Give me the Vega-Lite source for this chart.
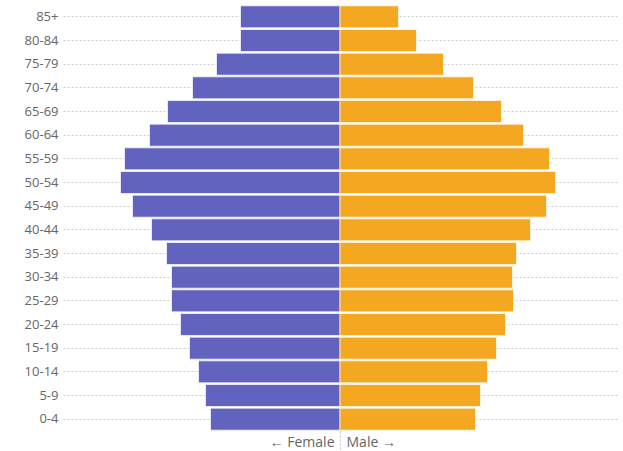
{
  "$schema": "https://vega.github.io/schema/vega-lite/v6.json",
  "width": 554,
  "height": 426,
  "autosize": "none",
  "padding": {"left": 63, "top": 5, "right": 6, "bottom": 20},
  "config": {"view": {"stroke": null}, "font": "Open Sans"},
  "data": {"values": [
    {"age": "85+", "sex": "Female", "value": -99.5},
    {"age": "80-84", "sex": "Female", "value": -99.5},
    {"age": "75-79", "sex": "Female", "value": -123.5},
    {"age": "70-74", "sex": "Female", "value": -147.5},
    {"age": "65-69", "sex": "Female", "value": -172.5},
    {"age": "60-64", "sex": "Female", "value": -190.5},
    {"age": "55-59", "sex": "Female", "value": -215.5},
    {"age": "50-54", "sex": "Female", "value": -219.5},
    {"age": "45-49", "sex": "Female", "value": -207.5},
    {"age": "40-44", "sex": "Female", "value": -188.5},
    {"age": "35-39", "sex": "Female", "value": -173.5},
    {"age": "30-34", "sex": "Female", "value": -168.5},
    {"age": "25-29", "sex": "Female", "value": -168.5},
    {"age": "20-24", "sex": "Female", "value": -159.5},
    {"age": "15-19", "sex": "Female", "value": -150.5},
    {"age": "10-14", "sex": "Female", "value": -141.5},
    {"age": "5-9", "sex": "Female", "value": -134.5},
    {"age": "0-4", "sex": "Female", "value": -129.5},
    {"age": "85+", "sex": "Male", "value": 58.5},
    {"age": "80-84", "sex": "Male", "value": 76.5},
    {"age": "75-79", "sex": "Male", "value": 103.5},
    {"age": "70-74", "sex": "Male", "value": 133.5},
    {"age": "65-69", "sex": "Male", "value": 161.5},
    {"age": "60-64", "sex": "Male", "value": 183.5},
    {"age": "55-59", "sex": "Male", "value": 209.5},
    {"age": "50-54", "sex": "Male", "value": 215.5},
    {"age": "45-49", "sex": "Male", "value": 206.5},
    {"age": "40-44", "sex": "Male", "value": 190.5},
    {"age": "35-39", "sex": "Male", "value": 176.5},
    {"age": "30-34", "sex": "Male", "value": 172.5},
    {"age": "25-29", "sex": "Male", "value": 173.5},
    {"age": "20-24", "sex": "Male", "value": 165.5},
    {"age": "15-19", "sex": "Male", "value": 156.5},
    {"age": "10-14", "sex": "Male", "value": 147.5},
    {"age": "5-9", "sex": "Male", "value": 140.5},
    {"age": "0-4", "sex": "Male", "value": 135.5}
  ]},
  "mark": {"type": "bar", "stroke": "white", "strokeWidth": 1, "strokeOpacity": 0.7},
  "encoding": {
    "y": {
      "field": "age", "type": "nominal", "sort": null,
      "scale": {"paddingInner": 0.07, "paddingOuter": 0.035},
      "axis": {
        "title": null, "domain": false, "ticks": false,
        "labelFont": "Open Sans", "labelFontSize": 13, "labelColor": "#666666",
        "labelPadding": 5, "grid": true, "bandPosition": 0.5,
        "gridDash": [2, 2], "gridColor": "#cccccc", "gridWidth": 1
      }
    },
    "x": {
      "field": "value", "type": "quantitative",
      "scale": {"domain": [-277, 277], "nice": false, "zero": false},
      "axis": {
        "values": [-0.01, 0.01], "domain": false, "title": null,
        "grid": true, "gridDash": [2, 2], "gridColor": "#cccccc",
        "ticks": true, "tickSize": 20, "tickDash": [2, 2], "tickColor": "#cccccc",
        "labelExpr": "datum.value < 0 ? '← Female' : 'Male →'",
        "labelAlign": {"expr": "datum.value < 0 ? 'right' : 'left'"},
        "labelOffset": {"expr": "datum.value < 0 ? -6 : 6"},
        "labelFlush": false, "labelOverlap": false, "labelBound": false,
        "labelFont": "Open Sans", "labelFontSize": 14, "labelColor": "#666666",
        "labelPadding": -16
      }
    },
    "color": {
      "field": "sex", "type": "nominal",
      "scale": {"domain": ["Female", "Male"], "range": ["#6262bf", "#f4a822"]},
      "legend": null
    }
  }
}
